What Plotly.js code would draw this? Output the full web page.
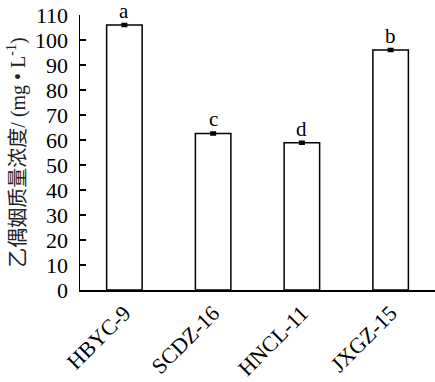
<!DOCTYPE html>
<html><head><meta charset="utf-8">
<script src="https://cdn.plot.ly/plotly-3.0.1.min.js"></script>
<style>html,body{margin:0;padding:0;background:#fff}</style>
</head><body><div id="chart" style="width:435px;height:382px"></div>
<script>
const categories = ["HBYC-9", "SCDZ-16", "HNCL-11", "JXGZ-15"];
const values = [106.0, 62.6, 58.9, 96.0];
const errors = [0.5, 0.5, 0.5, 0.5];
const letters = ["a", "c", "d", "b"];
const yTicks = [0,10,20,30,40,50,60,70,80,90,100,110];

const serif = "Liberation Serif, Times New Roman, Noto Sans CJK SC, serif";
const trace = {
  type: "bar", x: categories, y: values, width: 0.4,
  marker: {color: "#ffffff", line: {color: "#000000", width: 1.5}},
  error_y: {type: "data", array: errors, visible: true, color: "#000", thickness: 2, width: 3},
  hoverinfo: "none"
};
const annotations = categories.map((c, i) => ({
  x: c, y: values[i] + errors[i], xref: "x", yref: "y",
  text: letters[i], showarrow: false, yanchor: "bottom", yshift: -1,
  font: {family: serif, size: 21, color: "#000"}
}));
const layout = {
  width: 435, height: 382,
  margin: {l: 80, r: 0, t: 15, b: 92},
  paper_bgcolor: "#fff", plot_bgcolor: "#fff",
  showlegend: false,
  font: {family: serif, color: "#000"},
  annotations: annotations,
  xaxis: {
    range: [-0.5, 3.5], showline: true, linecolor: "#000", linewidth: 1.5,
    ticks: "", tickangle: -45, tickfont: {family: serif, size: 22, color: "#000"},
    showgrid: false, zeroline: false, fixedrange: true
  },
  yaxis: {
    range: [0, 110], tickvals: yTicks, ticktext: yTicks.map(String),
    showline: true, linecolor: "#000", linewidth: 1.5,
    ticks: "inside", ticklen: 6, tickwidth: 1.5, tickcolor: "#000",
    ticklabelstandoff: 6,
    tickfont: {family: serif, size: 22, color: "#000"},
    showgrid: false, zeroline: false, fixedrange: true,
    title: {text: "乙偶姻质量浓度/ (mg • L<sup>-1</sup>)", font: {family: serif, size: 20, color: "#222"}, standoff: 4}
  }
};
Plotly.newPlot("chart", [trace], layout, {displayModeBar: false, staticPlot: true});
</script></body></html>
